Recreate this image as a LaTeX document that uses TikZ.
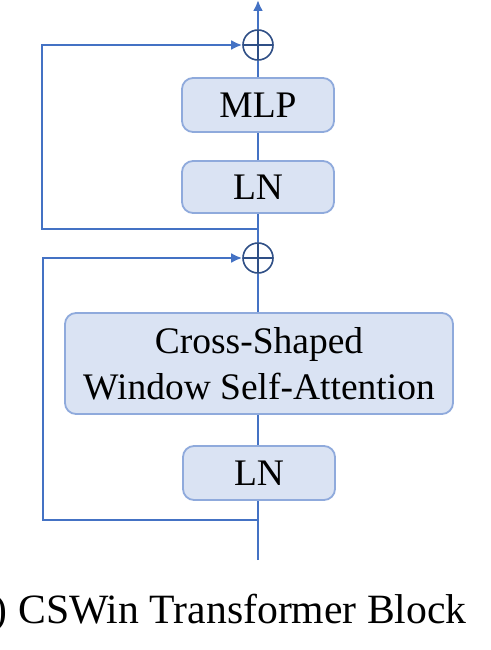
\documentclass[tikz,border=0pt]{standalone}
\usepackage{fontspec}
\setmainfont{Liberation Serif}
\usetikzlibrary{arrows.meta,calc}
\definecolor{boxfill}{HTML}{DAE3F3}
\definecolor{boxline}{HTML}{8FAADC}
\definecolor{flow}{HTML}{4472C4}
\definecolor{sumline}{HTML}{2F4F86}
\tikzset{
  block/.style={draw=boxline, fill=boxfill, line width=1.8pt, rounded corners=11pt, inner sep=0pt, align=center, font=\fontsize{37.5}{46}\selectfont},
  sumnode/.style={circle, draw=sumline, line width=1.6pt, minimum size=30pt, inner sep=0pt,
    path picture={\draw[sumline, line width=1.4pt] (path picture bounding box.north) -- (path picture bounding box.south) (path picture bounding box.west) -- (path picture bounding box.east);}},
  conn/.style={draw=flow, line width=2.2pt},
  arr/.style={conn, -{Latex[length=11pt,width=10pt]}}
}
\begin{document}
\begin{tikzpicture}[x=1pt,y=-1pt]
\useasboundingbox (0,0) rectangle (490,650);
% blocks
\node[block, minimum width=152pt, minimum height=54pt] (mlp) at (258,105) {MLP};
\node[block, minimum width=152pt, minimum height=52pt] (ln1) at (258,187) {LN};
\node[block, minimum width=388pt, minimum height=101pt] (attn) at (259,363.5) {Cross-Shaped\\Window Self-Attention};
\node[block, minimum width=152pt, minimum height=54pt] (ln2) at (259,473) {LN};
% sums
\node[sumnode] (s1) at (258,45) {};
\node[sumnode] (s2) at (258,258) {};
% coordinates
\coordinate (out) at (258,0);
\coordinate (in) at (258,560);
\coordinate (b2) at (258,520);
\coordinate (b1) at (258,229);
\coordinate (c2) at (43,520);
\coordinate (d2) at (43,258);
\coordinate (c1) at (42,229);
\coordinate (d1) at (42,45);
% main path
\draw[conn] (in) -- (in |- ln2.south);
\draw[conn] (in |- ln2.north) -- (in |- attn.south);
\draw[conn] (in |- attn.north) -- (s2.south);
\draw[conn] (s2.north) -- (in |- ln1.south);
\draw[conn] (in |- ln1.north) -- (in |- mlp.south);
\draw[conn] (in |- mlp.north) -- (s1.south);
\draw[arr] (s1.north) -- (out);
% skips
\draw[arr] (b2) -- (c2) -- (d2) -- (s2.west);
\draw[arr] (b1) -- (c1) -- (d1) -- (s1.west);
% caption
\node[anchor=base west, inner sep=0pt, font=\fontsize{41.7}{50}\selectfont] (cap) at (-6.3,623) {) CSWin Transformer Block};
\end{tikzpicture}
\end{document}
